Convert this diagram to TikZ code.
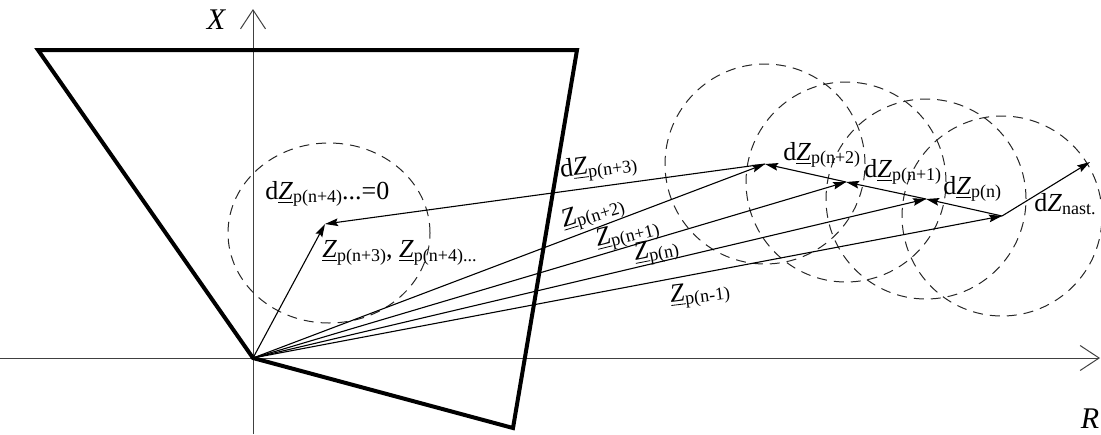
\documentclass[tikz,border=0pt]{standalone}
\usepackage{fontspec}
\setmainfont{Liberation Serif}
\usetikzlibrary{arrows.meta}
\tikzset{
  ph axis/.style={black!75,line width=0.5pt,-{Straight Barb[length=9.5pt,width=12.5pt]}},
  ph frame/.style={line width=2pt,line join=miter},
  ph vec/.style={line width=0.55pt,-{Stealth[length=6.5pt,width=3.8pt,inset=1pt]}},
  ph circ/.style={black!85,line width=0.5pt,dash pattern=on 5pt off 3.5pt},
  ph lbl/.style={inner sep=0pt,anchor=west,font=\fontsize{13}{15}\selectfont}
}
\newcommand{\phZ}[1]{\underline{\textit{Z}}\raisebox{-0.3ex}{\fontsize{9}{10}\selectfont #1}}

\begin{document}
\begin{tikzpicture}[x=0.5pt,y=-0.5pt]
  \useasboundingbox (0,0) rectangle (1101,434);
  % points
  \coordinate (O) at (253,358);
  \coordinate (P) at (325,224);
  \coordinate (A) at (765,164);
  \coordinate (B) at (846,182);
  \coordinate (C) at (926,199);
  \coordinate (D) at (1002,216);
  \coordinate (E) at (1090,162);
  % axes
  \coordinate (xtop) at (253,9);
  \coordinate (xbot) at (253,434);
  \coordinate (rleft) at (0,358);
  \coordinate (rright) at (1100,358);
  \draw[ph axis] (xbot)--(xtop);
  \draw[ph axis] (rleft)--(rright);
  \node[font=\fontsize{15}{17}\selectfont\itshape] (xl) at (216,20) {X};
  \node[font=\fontsize{15}{17}\selectfont\itshape] (rl) at (1090,419) {R};
  % frame
  \draw[ph frame] (38,50)--(577,50)--(513,428)--(O)--cycle;
  % circles
  \draw[ph circ] (329,233) ellipse [x radius=50.5pt,y radius=45pt];
  \foreach \p in {A,B,C,D}
    \draw[ph circ] (\p) circle [radius=50pt];
  % vectors
  \foreach \p in {P,A,B,C,D}
    \draw[ph vec] (O)--(\p);
  \draw[ph vec] (D)--(C);
  \draw[ph vec] (C)--(B);
  \draw[ph vec] (B)--(A);
  \draw[ph vec] (A)--(P);
  \draw[ph vec] (D)--(E);
  % labels
  \node[ph lbl] (l4) at (265,194) {d\phZ{p(n+4)}...=0};
  \node[ph lbl] (l3) at (322,253) {\phZ{p(n+3)}, \phZ{p(n+4)...}};
  \node[ph lbl,rotate=7] (d3) at (560,172) {d\phZ{p(n+3)}};
  \node[ph lbl] (d2) at (783,155) {d\phZ{p(n+2)}};
  \node[ph lbl] (d1) at (864,172) {d\phZ{p(n+1)}};
  \node[ph lbl] (d0) at (943,189) {d\phZ{p(n)}};
  \node[ph lbl] (dn) at (1034,204) {d\textit{Z}\raisebox{-0.3ex}{\fontsize{9}{10}\selectfont nast.}};
  \node[ph lbl,rotate=17] (z2) at (562,223) {\phZ{p(n+2)}};
  \node[ph lbl,rotate=14] (z1) at (596,242) {\phZ{p(n+1)}};
  \node[ph lbl,rotate=11] (z0) at (634,256) {\phZ{p(n)}};
  \node[ph lbl,rotate=7] (zm) at (670,298) {\phZ{p(n-1)}};
\end{tikzpicture}
\end{document}
